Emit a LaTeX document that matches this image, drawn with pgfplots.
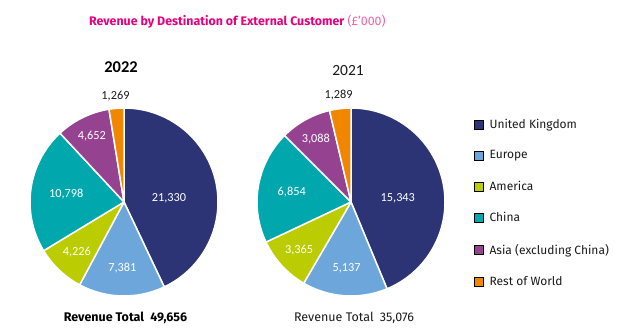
\documentclass[border=0pt]{standalone}
\usepackage{pgfplots}
\pgfplotsset{compat=1.18}
\usepackage{pgfplotstable}
\usepackage{fontspec}
\setmainfont{Carlito}
\newfontfamily\uifont{Fira Sans}
\definecolor{titlemag}{HTML}{E5007D}
\definecolor{titlepink}{HTML}{EE62A8}
\definecolor{col0}{HTML}{2D3475}
\definecolor{col1}{HTML}{6CA6DA}
\definecolor{col2}{HTML}{BBCD00}
\definecolor{col3}{HTML}{00A7AC}
\definecolor{col4}{HTML}{954391}
\definecolor{col5}{HTML}{F18700}
\definecolor{txt}{HTML}{1A1A1A}

\pgfplotstableread{
region value lr da tc
UK 21330 0.48 -7.7 white
Europe 7381 0.70 0 white
America 4226 0.73 0 white
China 10798 0.62 0 white
Asia 4652 0.78 0 white
Rest 1269 1.13 0 txt
}\dataA
\pgfplotstableread{
region value lr da tc
UK 15343 0.50 -6.3 white
Europe 5137 0.71 0 white
America 3365 0.75 0 white
China 6854 0.64 0 white
Asia 3088 0.77 0 white
Rest 1289 1.14 0 txt
}\dataB

\def\pieR{94}
\makeatletter
\newcommand\preparepie[2]{%
  \def\pie@tot{0}%
  \pgfplotsforeachungrouped \i in {0,...,5}{%
    \pgfplotstablegetelem{\i}{value}\of#1%
    \edef\pie@tot{\fpeval{\pie@tot+\pgfplotsretval}}%
  }%
  \expandafter\xdef\csname #2tot\endcsname{\pie@tot}%
  \def\pie@cum{90}%
  \pgfplotsforeachungrouped \i in {0,...,5}{%
    \pgfplotstablegetelem{\i}{value}\of#1\let\pie@v\pgfplotsretval
    \pgfplotstablegetelem{\i}{lr}\of#1\let\pie@lr\pgfplotsretval
    \pgfplotstablegetelem{\i}{da}\of#1\let\pie@da\pgfplotsretval
    \pgfplotstablegetelem{\i}{tc}\of#1\let\pie@tc\pgfplotsretval
    \edef\pie@end{\fpeval{round(\pie@cum-360*\pie@v/\pie@tot,4)}}%
    \expandafter\xdef\csname #2s\i\endcsname{\pie@cum}%
    \expandafter\xdef\csname #2e\i\endcsname{\pie@end}%
    \expandafter\xdef\csname #2x\i\endcsname{\fpeval{round(\pie@lr*\pieR*cosd((\pie@cum+\pie@end)/2+\pie@da),3)}}%
    \expandafter\xdef\csname #2y\i\endcsname{\fpeval{round(\pie@lr*\pieR*sind((\pie@cum+\pie@end)/2+\pie@da),3)}}%
    \expandafter\xdef\csname #2v\i\endcsname{\pie@v}%
    \expandafter\xdef\csname #2c\i\endcsname{\pie@tc}%
    \let\pie@cum\pie@end
  }%
}
\makeatother
\preparepie{\dataA}{A}
\preparepie{\dataB}{B}

\newcommand\labelfont{\fontsize{12.3bp}{14bp}\selectfont}
\newcommand\legfont{\uifont\fontsize{12bp}{14bp}\selectfont}

\pgfplotsset{
  pieaxis/.style={x=1bp, y=1bp, xmin=-100, xmax=100, ymin=-100, ymax=100,
    hide axis, clip=false, anchor=origin},
}
\newcommand\drawpie[1]{%
  \pgfplotsinvokeforeach{0,...,5}{%
    \filldraw[fill=col##1, draw=white, line width=1.5bp, line join=round]
      (axis cs:0,0) -- ++(\csname #1s##1\endcsname:\pieR bp)
      arc[start angle=\csname #1s##1\endcsname, end angle=\csname #1e##1\endcsname, radius=\pieR bp] -- cycle;
  }%
  \pgfplotsinvokeforeach{0,...,5}{%
    \node[text=\csname #1c##1\endcsname, font=\labelfont, inner sep=0pt]
      at (axis cs:\csname #1x##1\endcsname,\csname #1y##1\endcsname)
      {\pgfmathprintnumber[1000 sep={,}, assume math mode=true]{\csname #1v##1\endcsname}};
  }%
}

\begin{document}
\begin{tikzpicture}
\path[use as bounding box] (0,0) rectangle (627bp,335bp);

\begin{axis}[pieaxis, at={(124bp,133bp)}]
\drawpie{A}
\end{axis}

\begin{axis}[pieaxis, at={(351bp,133bp)},
  legend style={at={(axis cs:123,83)}, anchor=north west, draw=none, fill=none,
    inner sep=0pt, row sep=20.6bp, font=\legfont, text=txt,
    nodes={inner sep=0pt, anchor=west},
    /tikz/every odd column/.append style={column sep=6bp}},
  legend cell align=left,
  legend image code/.code={\fill[#1] (0bp,-4.5bp) rectangle (9bp,4.5bp);},
]
\drawpie{B}
\addlegendimage{fill=col0}\addlegendentry{United Kingdom}
\addlegendimage{fill=col1}\addlegendentry{Europe}
\addlegendimage{fill=col2}\addlegendentry{America}
\addlegendimage{fill=col3}\addlegendentry{China}
\addlegendimage{fill=col4}\addlegendentry{Asia (excluding China)}
\addlegendimage{fill=col5}\addlegendentry{Rest of World}
\end{axis}

\node[anchor=base west, inner sep=0pt, font=\uifont\fontsize{12.4bp}{14bp}\selectfont]
  at (89bp,309bp) {\textcolor{titlemag}{\bfseries Revenue by Destination of External Customer} \textcolor{titlepink}{(£’000)}};
\node[inner sep=0pt, font=\fontsize{16.5bp}{18bp}\selectfont\bfseries, text=black] at (121bp,268bp) {2022};
\node[inner sep=0pt, font=\fontsize{15.5bp}{18bp}\selectfont, text=txt] at (348bp,264bp) {2021};
\node[inner sep=0pt, font=\uifont\fontsize{12.5bp}{14bp}\selectfont\bfseries, text=black] at (125.5bp,17bp)
  {Revenue Total\hspace{0.5em}\pgfmathprintnumber[1000 sep={,}, assume math mode=true]{\Atot}};
\node[inner sep=0pt, font=\uifont\fontsize{12.5bp}{14bp}\selectfont, text=txt] at (354bp,17bp)
  {Revenue Total\hspace{0.5em}\pgfmathprintnumber[1000 sep={,}, assume math mode=true]{\Btot}};
\end{tikzpicture}
\end{document}
